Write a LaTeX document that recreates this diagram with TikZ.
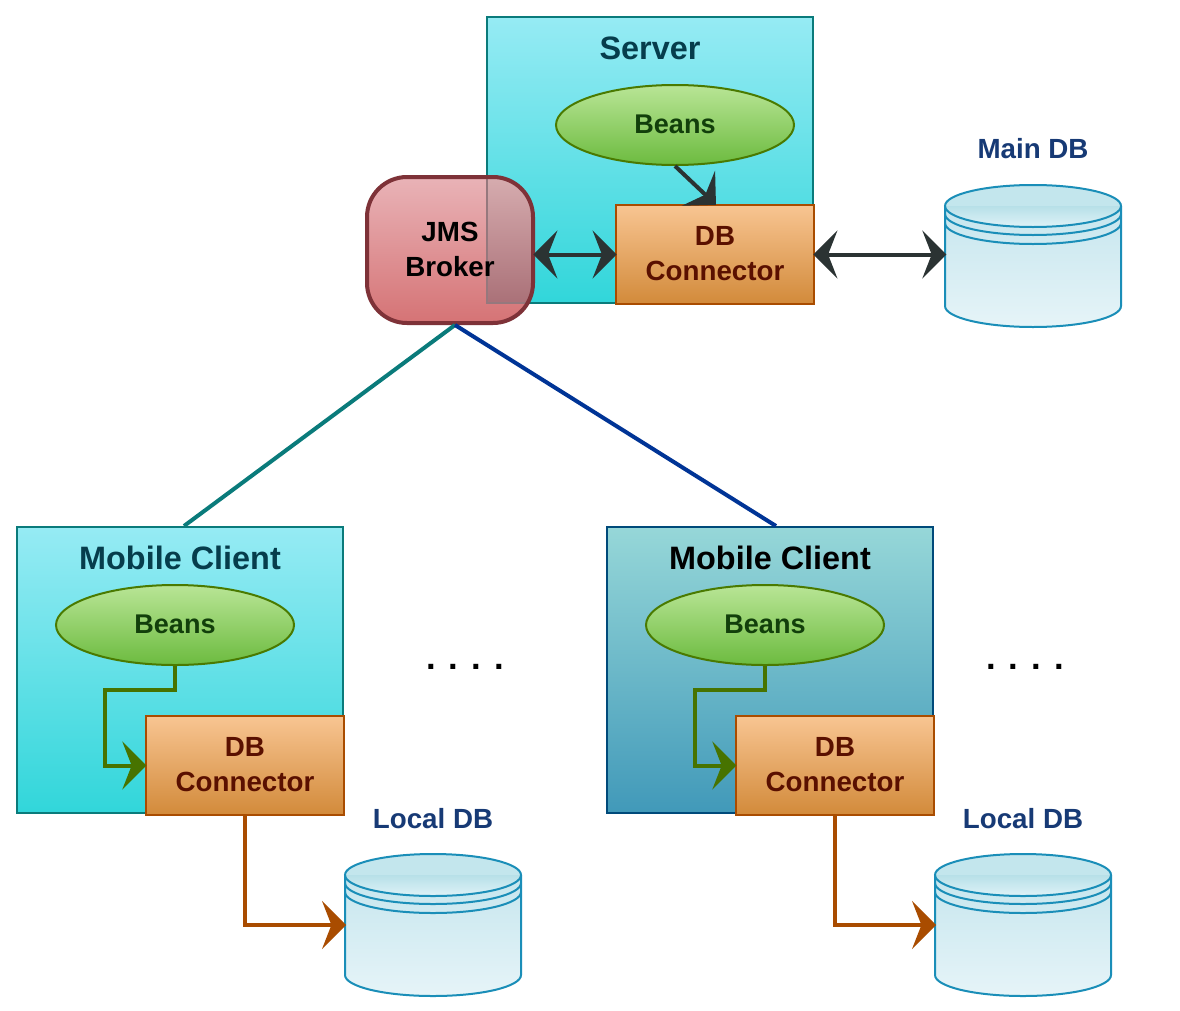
\documentclass[tikz,border=0pt]{standalone}
\usepackage{fontspec}
\setmainfont{Liberation Sans}[BoldFont={Liberation Sans Bold}]
\usetikzlibrary{arrows.meta,shapes.geometric,calc}
\definecolor{bx}{HTML}{0A7B7B}
\definecolor{arrdark}{HTML}{2B3333}
\definecolor{arrgreen}{HTML}{477300}
\definecolor{arrbrown}{HTML}{A94C00}
\definecolor{cylline}{HTML}{1A8EB8}
\tikzset{
 x=0.75pt,y=-0.75pt,
 txt/.style={font=\fontsize{20.8}{26.25}\selectfont\bfseries,align=center,inner sep=0pt},
 bigtxt/.style={txt,font=\fontsize{24.3}{26.25}\selectfont\bfseries},
 panel/.style={draw=bx,line width=1.5pt,minimum width=244.5pt,minimum height=214.5pt,inner sep=0pt},
 cyanpanel/.style={panel,top color={rgb,255:red,150;green,235;blue,244},bottom color={rgb,255:red,49;green,214;blue,218}},
 bluepanel/.style={panel,draw={rgb,255:red,0;green,74;blue,122},top color={rgb,255:red,150;green,215;blue,216},bottom color={rgb,255:red,65;green,153;blue,185}},
 beansnode/.style={ellipse,draw={rgb,255:red,74;green,122;blue,0},line width=1.5pt,top color={rgb,255:red,185;green,229;blue,150},bottom color={rgb,255:red,108;green,187;blue,63},minimum width=178.5pt,minimum height=60pt,inner sep=0pt,txt,font=\fontsize{20.3}{26.25}\selectfont\bfseries,text={rgb,255:red,18;green,63;blue,11}},
 dbcnode/.style={rectangle,draw=arrbrown,line width=1.5pt,top color={rgb,255:red,248;green,197;blue,146},bottom color={rgb,255:red,210;green,138;blue,58},minimum width=148.5pt,minimum height=74.5pt,inner sep=0pt,txt,text={rgb,255:red,90;green,16;blue,0}},
 cylbox/.style={rectangle,minimum width=132pt,minimum height=106.5pt,inner sep=0pt},
 dblabel/.style={txt,text={rgb,255:red,23;green,58;blue,117}},
 paneltitle/.style={bigtxt,text={rgb,255:red,6;green,61;blue,76}},
 dotsrow/.style={txt,font=\fontsize{26}{26}\selectfont\bfseries,text=black},
 bighead/.style={-{Stealth[length=18pt,width=36pt,inset=7pt]},shorten >=-1pt},
 dblhead/.style={{Stealth[length=18pt,width=36pt,inset=7pt]}-{Stealth[length=18pt,width=36pt,inset=7pt]},shorten >=-1.2pt,shorten <=-1.2pt},
 conn/.style={line width=3pt,draw=#1,color=#1},
}
\newcommand{\dotrow}{.\hspace{9.8pt}.\hspace{9.8pt}.\hspace{9.8pt}.}
\newcommand{\lift}[1]{\raisebox{0.75pt}[\height][\depth]{#1}}
% #1 node name, #2 centre x, #3 centre y
\newcommand{\mycyl}[3]{%
 \begin{scope}[shift={(#2,#3)}]
  \shade[top color={rgb,255:red,198;green,230;blue,238},bottom color={rgb,255:red,230;green,244;blue,248}] (-88,-50) -- (-88,50) arc[start angle=180,end angle=0,x radius=88,y radius=21] -- (88,-50) arc[start angle=0,end angle=180,x radius=88,y radius=21] -- cycle;
  \begin{scope}
   \clip (0,-50) ellipse[x radius=88,y radius=21];
   \fill[color={rgb,255:red,195;green,230;blue,237}] (-90,-72) rectangle (90,-50);
   \shade[top color={rgb,255:red,183;green,224;blue,232},bottom color={rgb,255:red,224;green,243;blue,248}] (-90,-50) rectangle (90,-28);
  \end{scope}
  \draw[cylline,line width=1.5pt] (-88,-50) -- (-88,50) arc[start angle=180,end angle=0,x radius=88,y radius=21] -- (88,-50);
  \draw[cylline,line width=1.5pt] (0,-50) ellipse[x radius=88,y radius=21];
  \draw[cylline,line width=1.5pt] (-88,-42) arc[start angle=180,end angle=0,x radius=88,y radius=21];
  \draw[cylline,line width=1.5pt] (-88,-33) arc[start angle=180,end angle=0,x radius=88,y radius=21];
 \end{scope}
 \node[cylbox] (#1) at (#2,#3) {};
}
\begin{document}
\begin{tikzpicture}
\useasboundingbox (0,0) rectangle (1180,1010);
\fill[white] (0,0) rectangle (1180,1010);
% server
\node[cyanpanel] (server) at (650,160) {};
\node[paneltitle] (servertitle) at (650,48) {Server};
\node[beansnode] (sbeans) at (675,125) {\lift{Beans}};
\node[dbcnode] (sdbc) at (715,254.5) {\lift{DB}\\\lift{Connector}};
\draw[conn=arrdark,bighead] (sbeans.south) -- (sdbc.north);
% broker
\shade[rounded corners=30pt,top color={rgb,255:red,233;green,179;blue,183},bottom color={rgb,255:red,213;green,115;blue,117}] (367,177) rectangle (533,323);
\begin{scope}
 \clip[rounded corners=30pt] (367,177) rectangle (533,323);
 \shade[top color={rgb,255:red,214;green,172;blue,175},bottom color={rgb,255:red,170;green,113;blue,120}] (487,177) rectangle (533,303);
 \draw[color={rgb,255:red,150;green,120;blue,125},line width=1pt] (487,177) -- (487,303) -- (533,303);
\end{scope}
\node[rectangle,draw={rgb,255:red,126;green,50;blue,56},line width=3pt,rounded corners=30pt,minimum width=124.5pt,minimum height=109.5pt,inner sep=0pt,txt,text=black] (broker) at (450,250) {\lift{JMS}\\\lift{Broker}};
\draw[conn=arrdark,dblhead] (broker.east |- sdbc.west) -- (sdbc.west);
% main db
\mycyl{maindb}{1033}{256}
\node[dblabel] (maindblabel) at (1033,149) {Main DB};
\draw[conn=arrdark,dblhead] (sdbc.east) -- (sdbc.east -| maindb.west);
% clients
\node[cyanpanel] (clienta) at (180,670) {};
\node[paneltitle] (clientatitle) at (180,558) {Mobile Client};
\node[beansnode] (abeans) at (175,625) {\lift{Beans}};
\node[dbcnode] (adbc) at (245,765.5) {\lift{DB}\\\lift{Connector}};
\coordinate (abend) at (105,690);
\draw[conn=arrgreen,bighead,line join=miter] (abeans.south) |- (abend) |- (adbc.west);
\mycyl{adb}{433}{925}
\node[dblabel] (adblabel) at (433,819) {Local DB};
\draw[conn=arrbrown,bighead] (adbc.south) |- (adb.west);
\node[dotsrow] (adots) at (465,667) {\dotrow};
%
\node[bluepanel] (clientb) at (770,670) {};
\node[bigtxt,text=black] (clientbtitle) at (770,558) {Mobile Client};
\node[beansnode] (bbeans) at (765,625) {\lift{Beans}};
\node[dbcnode] (bdbc) at (835,765.5) {\lift{DB}\\\lift{Connector}};
\coordinate (bbend) at (695,690);
\draw[conn=arrgreen,bighead,line join=miter] (bbeans.south) |- (bbend) |- (bdbc.west);
\mycyl{bdb}{1023}{925}
\node[dblabel] (bdblabel) at (1023,819) {Local DB};
\draw[conn=arrbrown,bighead] (bdbc.south) |- (bdb.west);
\node[dotsrow] (bdots) at (1025,667) {\dotrow};
% links
\draw[line width=3pt,draw=bx] ([xshift=3.75pt]broker.south) -- ([xshift=3pt]clienta.north);
\draw[line width=3pt,draw={rgb,255:red,0;green,52;blue,150}] ([xshift=3.75pt]broker.south) -- ([xshift=4.5pt]clientb.north);
\end{tikzpicture}
\end{document}
